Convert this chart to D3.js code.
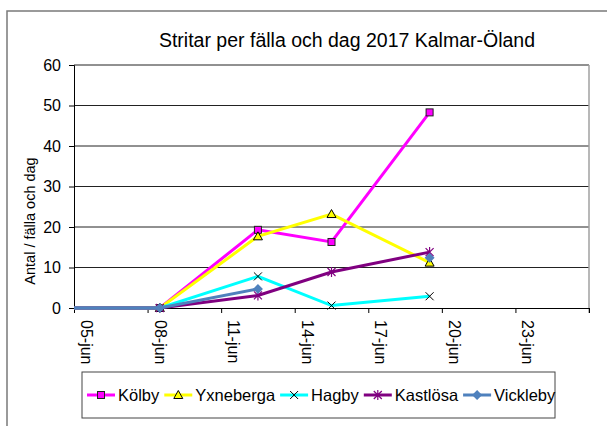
<!DOCTYPE html>
<html>
<head>
<meta charset="utf-8">
<script src="https://cdn.jsdelivr.net/npm/d3@7"></script>
<style>
  body { margin: 0; background: #fff; }
  svg { display: block; font-family: Arial, "Liberation Sans", sans-serif; }
</style>
</head>
<body>
<svg width="607" height="426"></svg>
<script>
// data
const dates = ["2017-06-04T12:00", "2017-06-08T12:00", "2017-06-12T12:00", "2017-06-15T12:00", "2017-06-19T12:00"];
const kolby = [0, 0, 19.3, 16.3, 48.3];
const yxneberga = [0, 0, 17.7, 23.2, 11.2];
const hagby = [0, 0, 7.8, 0.6, 2.9];
const kastlosa = [0, 0, 3.1, 8.9, 13.8];
const vickleby = [0, 0, 4.7, null, 12.4];

const seriesNames = ["Kölby", "Yxneberga", "Hagby", "Kastlösa", "Vickleby"];
const seriesValues = [kolby, yxneberga, hagby, kastlosa, vickleby];

const xTicks = ["2017-06-05", "2017-06-08", "2017-06-11", "2017-06-14", "2017-06-17", "2017-06-20", "2017-06-23", "2017-06-26"];
const yTicks = [0, 10, 20, 30, 40, 50, 60];
const monthNames = ["jan", "feb", "mar", "apr", "maj", "jun", "jul", "aug", "sep", "okt", "nov", "dec"];

// styles per series
const colors = ["#ff00ff", "#ffff00", "#00ffff", "#800080", "#4f81bd"];
const markers = ["square", "triangle", "x", "star", "diamond"];

const parseT = d3.timeParse("%Y-%m-%dT%H:%M");
const parseD = d3.timeParse("%Y-%m-%d");

const svg = d3.select("svg");

// outer chart border
svg.append("rect")
  .attr("x", 7).attr("y", 11)
  .attr("width", 620).attr("height", 440)
  .attr("fill", "none")
  .attr("stroke", "#7a7a7a")
  .attr("stroke-width", 1.5);

const plot = { left: 74, right: 589, top: 65, bottom: 308 };

const x = d3.scaleTime()
  .domain([parseD("2017-06-05"), parseD("2017-06-26")])
  .range([plot.left, plot.right]);

const y = d3.scaleLinear()
  .domain([0, 60])
  .range([plot.bottom, plot.top]);

// title
svg.append("text")
  .attr("x", 347).attr("y", 47)
  .attr("text-anchor", "middle")
  .style("font-size", "19.5px")
  .text("Stritar  per fälla och dag 2017 Kalmar-Öland");

// gridlines
svg.append("g")
  .selectAll("line")
  .data(yTicks.filter(d => d > 0))
  .join("line")
  .attr("x1", plot.left).attr("x2", plot.right)
  .attr("y1", d => y(d)).attr("y2", d => y(d))
  .attr("stroke", "#222")
  .attr("stroke-width", 1);

// right plot border
svg.append("line")
  .attr("x1", plot.right).attr("x2", plot.right)
  .attr("y1", plot.top).attr("y2", plot.bottom + 5)
  .attr("stroke", "#a0a0a0")
  .attr("stroke-width", 1.5);

// y axis
const yAxis = svg.append("g")
  .attr("transform", `translate(${plot.left},0)`)
  .call(d3.axisLeft(y).tickValues(yTicks).tickSize(5).tickPadding(8));
yAxis.select(".domain").attr("stroke", "#000");
yAxis.selectAll("text").style("font-size", "16px").attr("fill", "#000").attr("font-family", null);

// x axis
const xAxis = svg.append("g")
  .attr("transform", `translate(0,${plot.bottom})`)
  .call(d3.axisBottom(x)
    .tickValues(xTicks.map(parseD))
    .tickSize(5)
    .tickFormat((d, i) => i === xTicks.length - 1 ? "" : d3.timeFormat("%d")(d) + "-" + monthNames[d.getMonth()]));
xAxis.select(".domain").attr("stroke", "#000");
xAxis.selectAll("text")
  .style("font-size", "16px")
  .attr("font-family", null)
  .attr("fill", "#000")
  .attr("text-anchor", "start")
  .attr("dy", null)
  .attr("dominant-baseline", "central")
  .attr("transform", "translate(12,0) rotate(90)")
  .attr("x", 12)
  .attr("y", 0);

// y axis title
svg.append("text")
  .attr("transform", "translate(30,221) rotate(-90)")
  .attr("text-anchor", "middle")
  .attr("dominant-baseline", "central")
  .style("font-size", "14.5px")
  .text("Antal / fälla och dag");

// clip for series
svg.append("clipPath").attr("id", "plotclip")
  .append("rect")
  .attr("x", plot.left).attr("y", plot.top - 10)
  .attr("width", plot.right - plot.left).attr("height", plot.bottom - plot.top + 20);

const times = dates.map(parseT);

const line = d3.line()
  .defined(d => d.v !== null)
  .x(d => x(d.t))
  .y(d => y(d.v));

function drawMarker(sel, type, color) {
  if (type === "square") {
    sel.append("rect").attr("x", -3.5).attr("y", -3.5).attr("width", 7).attr("height", 7)
      .attr("fill", color).attr("stroke", "#222").attr("stroke-width", 1);
  } else if (type === "triangle") {
    sel.append("path").attr("d", "M0,-4.5L4.5,3.5L-4.5,3.5Z")
      .attr("fill", color).attr("stroke", "#000").attr("stroke-width", 1);
  } else if (type === "x") {
    sel.append("path").attr("d", "M-4,-4L4,4M-4,4L4,-4")
      .attr("stroke", "#000").attr("stroke-width", 1);
  } else if (type === "star") {
    sel.append("path").attr("d", "M-4,-4L4,4M-4,4L4,-4M0,-5L0,5")
      .attr("stroke", color).attr("stroke-width", 1.2);
  } else if (type === "diamond") {
    sel.append("path").attr("d", "M0,-5L5,0L0,5L-5,0Z")
      .attr("fill", color);
  }
}

seriesValues.forEach((vals, i) => {
  const pts = vals.map((v, j) => ({ t: times[j], v: v }));
  const g = svg.append("g").attr("clip-path", "url(#plotclip)");
  g.append("path")
    .datum(pts)
    .attr("d", line)
    .attr("fill", "none")
    .attr("stroke", colors[i])
    .attr("stroke-width", 3);
  g.selectAll("g.mk")
    .data(pts.filter(d => d.v !== null))
    .join("g")
    .attr("class", "mk")
    .attr("transform", d => `translate(${x(d.t)},${y(d.v)})`)
    .each(function() { drawMarker(d3.select(this), markers[i], colors[i]); });
});

// legend
const legend = svg.append("g");
legend.append("rect")
  .attr("x", 82).attr("y", 372)
  .attr("width", 473).attr("height", 46)
  .attr("fill", "#fff")
  .attr("stroke", "#444")
  .attr("stroke-width", 1);

let lx = 87;
const ly = 395;
seriesNames.forEach((name, i) => {
  const item = legend.append("g");
  item.append("line")
    .attr("x1", lx).attr("x2", lx + 28)
    .attr("y1", ly).attr("y2", ly)
    .attr("stroke", colors[i]).attr("stroke-width", 3);
  drawMarker(item.append("g").attr("transform", `translate(${lx + 14},${ly})`), markers[i], colors[i]);
  const t = item.append("text")
    .attr("x", lx + 31).attr("y", ly)
    .attr("dominant-baseline", "central")
    .style("font-size", "16.5px")
    .text(name);
  lx += 31 + t.node().getComputedTextLength() + 5;
});
</script>
</body>
</html>
